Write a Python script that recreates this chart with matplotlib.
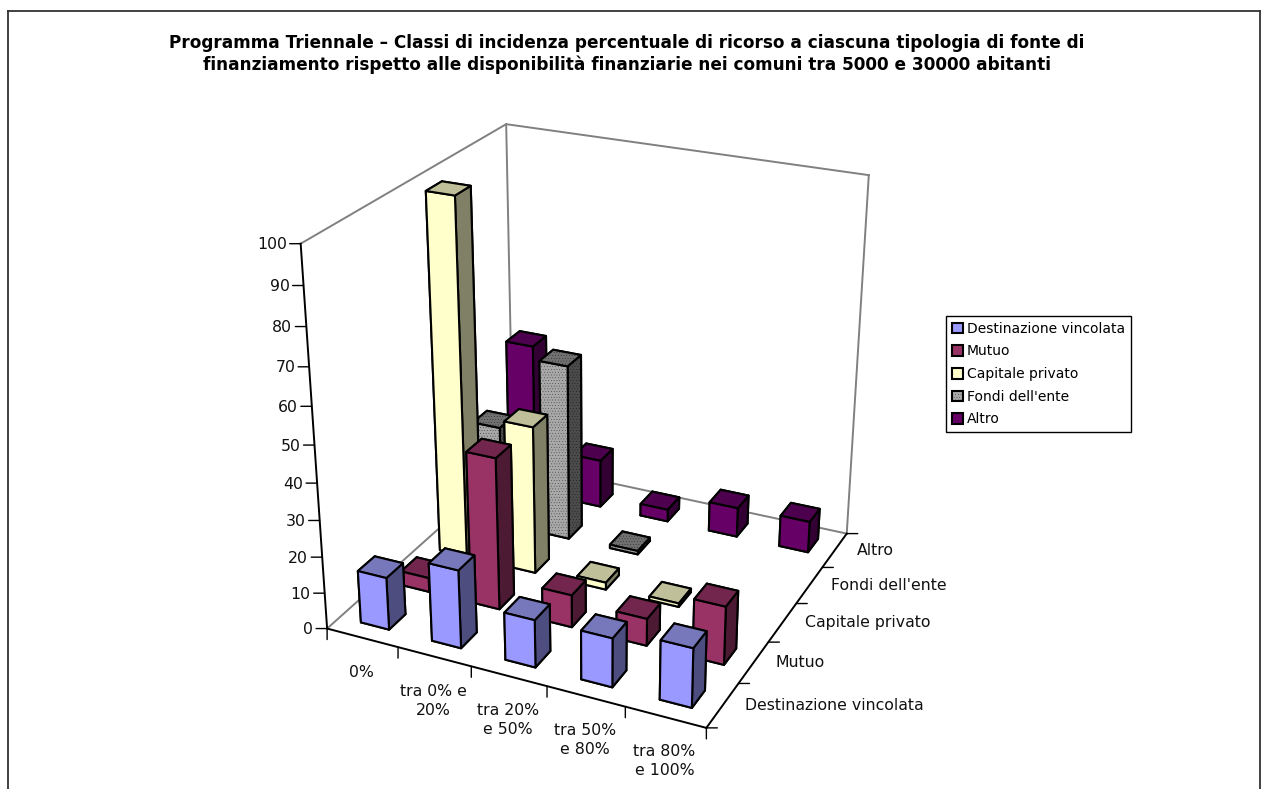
import matplotlib
matplotlib.use("Agg")
import matplotlib.pyplot as plt
from matplotlib.lines import Line2D
from matplotlib.patches import Patch
from mpl_toolkits.mplot3d import proj3d

title = ("Programma Triennale \u2013 Classi di incidenza percentuale di ricorso a ciascuna tipologia di fonte di\n"
         "finanziamento rispetto alle disponibilit\u00e0 finanziarie nei comuni tra 5000 e 30000 abitanti")
classes = ["0%", "tra 0% e\n20%", "tra 20%\ne 50%", "tra 50%\ne 80%", "tra 80%\ne 100%"]
series = ["Destinazione vincolata", "Mutuo", "Capitale privato", "Fondi dell'ente", "Altro"]
destinazione = [14.5, 21.5, 13, 13.3, 16]
mutuo = [4, 42, 9, 7.5, 16]
capitale = [99, 41.5, 2, 1, 0]
fondi = [28.5, 50, 1, 0, 0]
altro = [44, 14, 3.5, 8.5, 9]
z_ticks = list(range(0, 101, 10))

values = [destinazione, mutuo, capitale, fondi, altro]
# front, top, side colour of each series
colours = [("#9999FF", "#7777BB", "#4D4D80"),
           ("#993366", "#73264D", "#4D1A33"),
           ("#FFFFCC", "#BFBF99", "#808066"),
           ("#A8A8A8", "#707070", "#4B4B4B"),
           ("#660066", "#4D004D", "#330033")]

plt.rcParams["hatch.linewidth"] = 0.1

fig = plt.figure(figsize=(12.68, 7.89), dpi=100)
ax = fig.add_subplot(projection="3d", computed_zorder=False)
ax.set_xlim(0, 5)
ax.set_ylim(0, 5)
ax.set_zlim(0, 100)
ax.set_axis_off()

# camera fitted to the corners of the box in the reference
ax.view_init(elev=25.102, azim=-65.023, roll=0)
ax.set_proj_type("persp", focal_length=0.5273)
ax.set_box_aspect((1, 0.9937, 1.0016))
s, tx, ty = 3706.85, 598.19, 401.64
x0, x1 = ax.viewLim.intervalx
y0, y1 = ax.viewLim.intervaly
ax.set_position([(tx + s * x0) / 1268, (789 - (ty - s * y0)) / 789, s * (x1 - x0) / 1268, s * (y1 - y0) / 789])

GREY = "#808080"
def edge(a, b, color):
    ax.plot([a[0], b[0]], [a[1], b[1]], [a[2], b[2]], color=color, lw=1.4, zorder=1)

edge((0, 5, 0), (0, 0, 0), GREY)
edge((0, 5, 0), (5, 5, 0), GREY)
edge((0, 5, 0), (0, 5, 100), GREY)
edge((5, 5, 0), (5, 5, 100), GREY)
edge((0, 0, 100), (0, 5, 100), GREY)
edge((0, 5, 100), (5, 5, 100), GREY)
edge((0, 0, 0), (5, 0, 0), "black")
edge((5, 0, 0), (5, 5, 0), "black")
edge((0, 0, 0), (0, 0, 100), "black")

M = ax.get_proj()
def tick(point, dx, dy):
    u, v, _ = proj3d.proj_transform(point[0], point[1], point[2], M)
    ax.annotate("", xy=(u, v), xytext=(dx, dy), textcoords="offset pixels", zorder=1,
                arrowprops=dict(arrowstyle="-", color="black", lw=1, shrinkA=0, shrinkB=0))
    return u, v

def label(uv, text, dx, dy, ha, va="center", size=11.3):
    ax.annotate(text, xy=uv, xytext=(dx, dy), textcoords="offset pixels", ha=ha, va=va,
                fontsize=size, color="#111111", linespacing=1.33)

for z in z_ticks:
    uv = tick((0, 0, z), -11, 0)
    label(uv, str(z), -14, -1, "right")
for i in range(6):
    tick((i, 0, 0), 0, -11)
    tick((5, i, 0), 11, 0)
for i, name in enumerate(classes):
    u, v, _ = proj3d.proj_transform(i + 0.5, 0, 0, M)
    label((u, v), name, -1, -27, "center", "top")
for j, name in enumerate(series):
    u, v, _ = proj3d.proj_transform(5, j + 0.5, 0, M)
    label((u, v), name, 22, 0, "left")

bar_w = 0.4
order = 10
for j in range(4, -1, -1):
    front, top, side = colours[j]
    # bottom, top, -y, +y, -x, +x
    face = [front, top, front, front, side, side]
    for i in range(5):
        h = values[j][i]
        if h == 0:
            continue
        ax.bar3d(i + 0.5 - bar_w / 2, j + 0.5 - bar_w / 2, 0, bar_w, bar_w, h, color=face,
                 edgecolor="black", linewidth=1.5, shade=False, zorder=order,
                 hatch="......" if j == 3 else None)
        order += 1

handles = [Patch(facecolor=c[0], edgecolor="black", linewidth=1.5, hatch="......" if k == 3 else None)
           for k, c in enumerate(colours)]
fig.legend(handles, series, loc="upper left", bbox_to_anchor=(946 / 1268, 1 - 316 / 789), borderaxespad=0,
           fontsize=10, frameon=True, fancybox=False, framealpha=1, edgecolor="black", handlelength=0.8,
           handleheight=0.8, handletextpad=0.3, labelspacing=0.62, borderpad=0.42)

fig.text(627 / 1268, 1 - 54 / 789, title, ha="center", va="center", fontsize=12.2, fontweight="bold", linespacing=1.27)

# chart frame, cut off at the bottom like the reference
for xs, ys in [((8, 8), (789, 11)), ((8, 1260), (11, 11)), ((1260, 1260), (11, 789))]:
    fig.add_artist(Line2D([x / 1268 for x in xs], [1 - y / 789 for y in ys], color="#333333", lw=1.3))

fig.savefig("out.png", dpi=100)
